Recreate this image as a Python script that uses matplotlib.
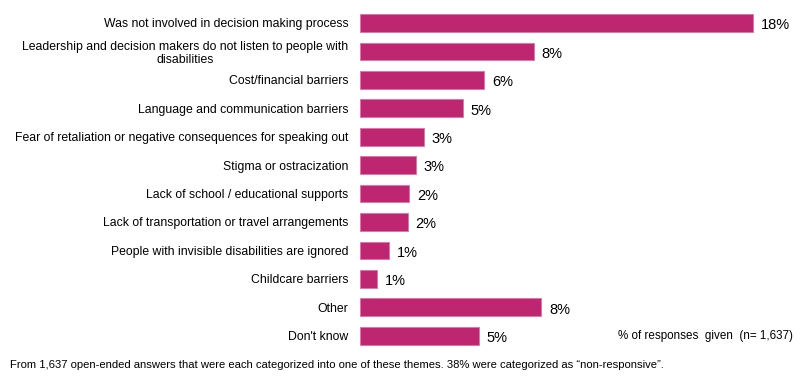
import matplotlib.pyplot as plt

plt.rcParams['font.family'] = ['Liberation Sans', 'DejaVu Sans']

themes = [
    "Was not involved in decision making process",
    "Leadership and decision makers do not listen to people with\ndisabilities",
    "Cost/financial barriers",
    "Language and communication barriers",
    "Fear of retaliation or negative consequences for speaking out",
    "Stigma or ostracization",
    "Lack of school / educational supports",
    "Lack of transportation or travel arrangements",
    "People with invisible disabilities are ignored",
    "Childcare barriers",
    "Other",
    "Don't know",
]
pct = [18.0, 7.97, 5.7, 4.7, 2.93, 2.57, 2.25, 2.2, 1.33, 0.8, 8.3, 5.45]

color = '#bf2672'

fig = plt.figure(figsize=(8, 3.82), dpi=100)
ax = fig.add_axes([0.45, 0.084, 0.55, 0.893])

y = list(range(len(themes)))
ax.barh(y, pct, height=0.62, color=color, edgecolor='#e070a8', linewidth=0.6)
for yi, v in zip(y, pct):
    ax.text(v + 0.35, yi + 0.08, f"{v:.0f}%", va='center', ha='left', fontsize=10.5)

ax.set_yticks(y)
ax.set_yticklabels(themes, fontsize=8.85, linespacing=1.15)
for lab in ax.get_yticklabels():
    lab.set_multialignment('center')
ax.set_ylim(len(themes) - 0.5, -0.5)
ax.set_xlim(0, 20.15)
ax.tick_params(axis='y', length=0, pad=8.5)
ax.set_xticks([])
for s in ax.spines.values():
    s.set_visible(False)

fig.text(0.991, 1 - 336 / 382, "% of responses  given  (n= 1,637)", ha='right', va='center', fontsize=8.4)
fig.text(0.012, 1 - 365 / 382,
         "From 1,637 open-ended answers that were each categorized into one of these themes. 38% were categorized as \u201cnon-responsive\u201d.",
         ha='left', va='center', fontsize=8.1)

fig.savefig('out.png', dpi=100)
